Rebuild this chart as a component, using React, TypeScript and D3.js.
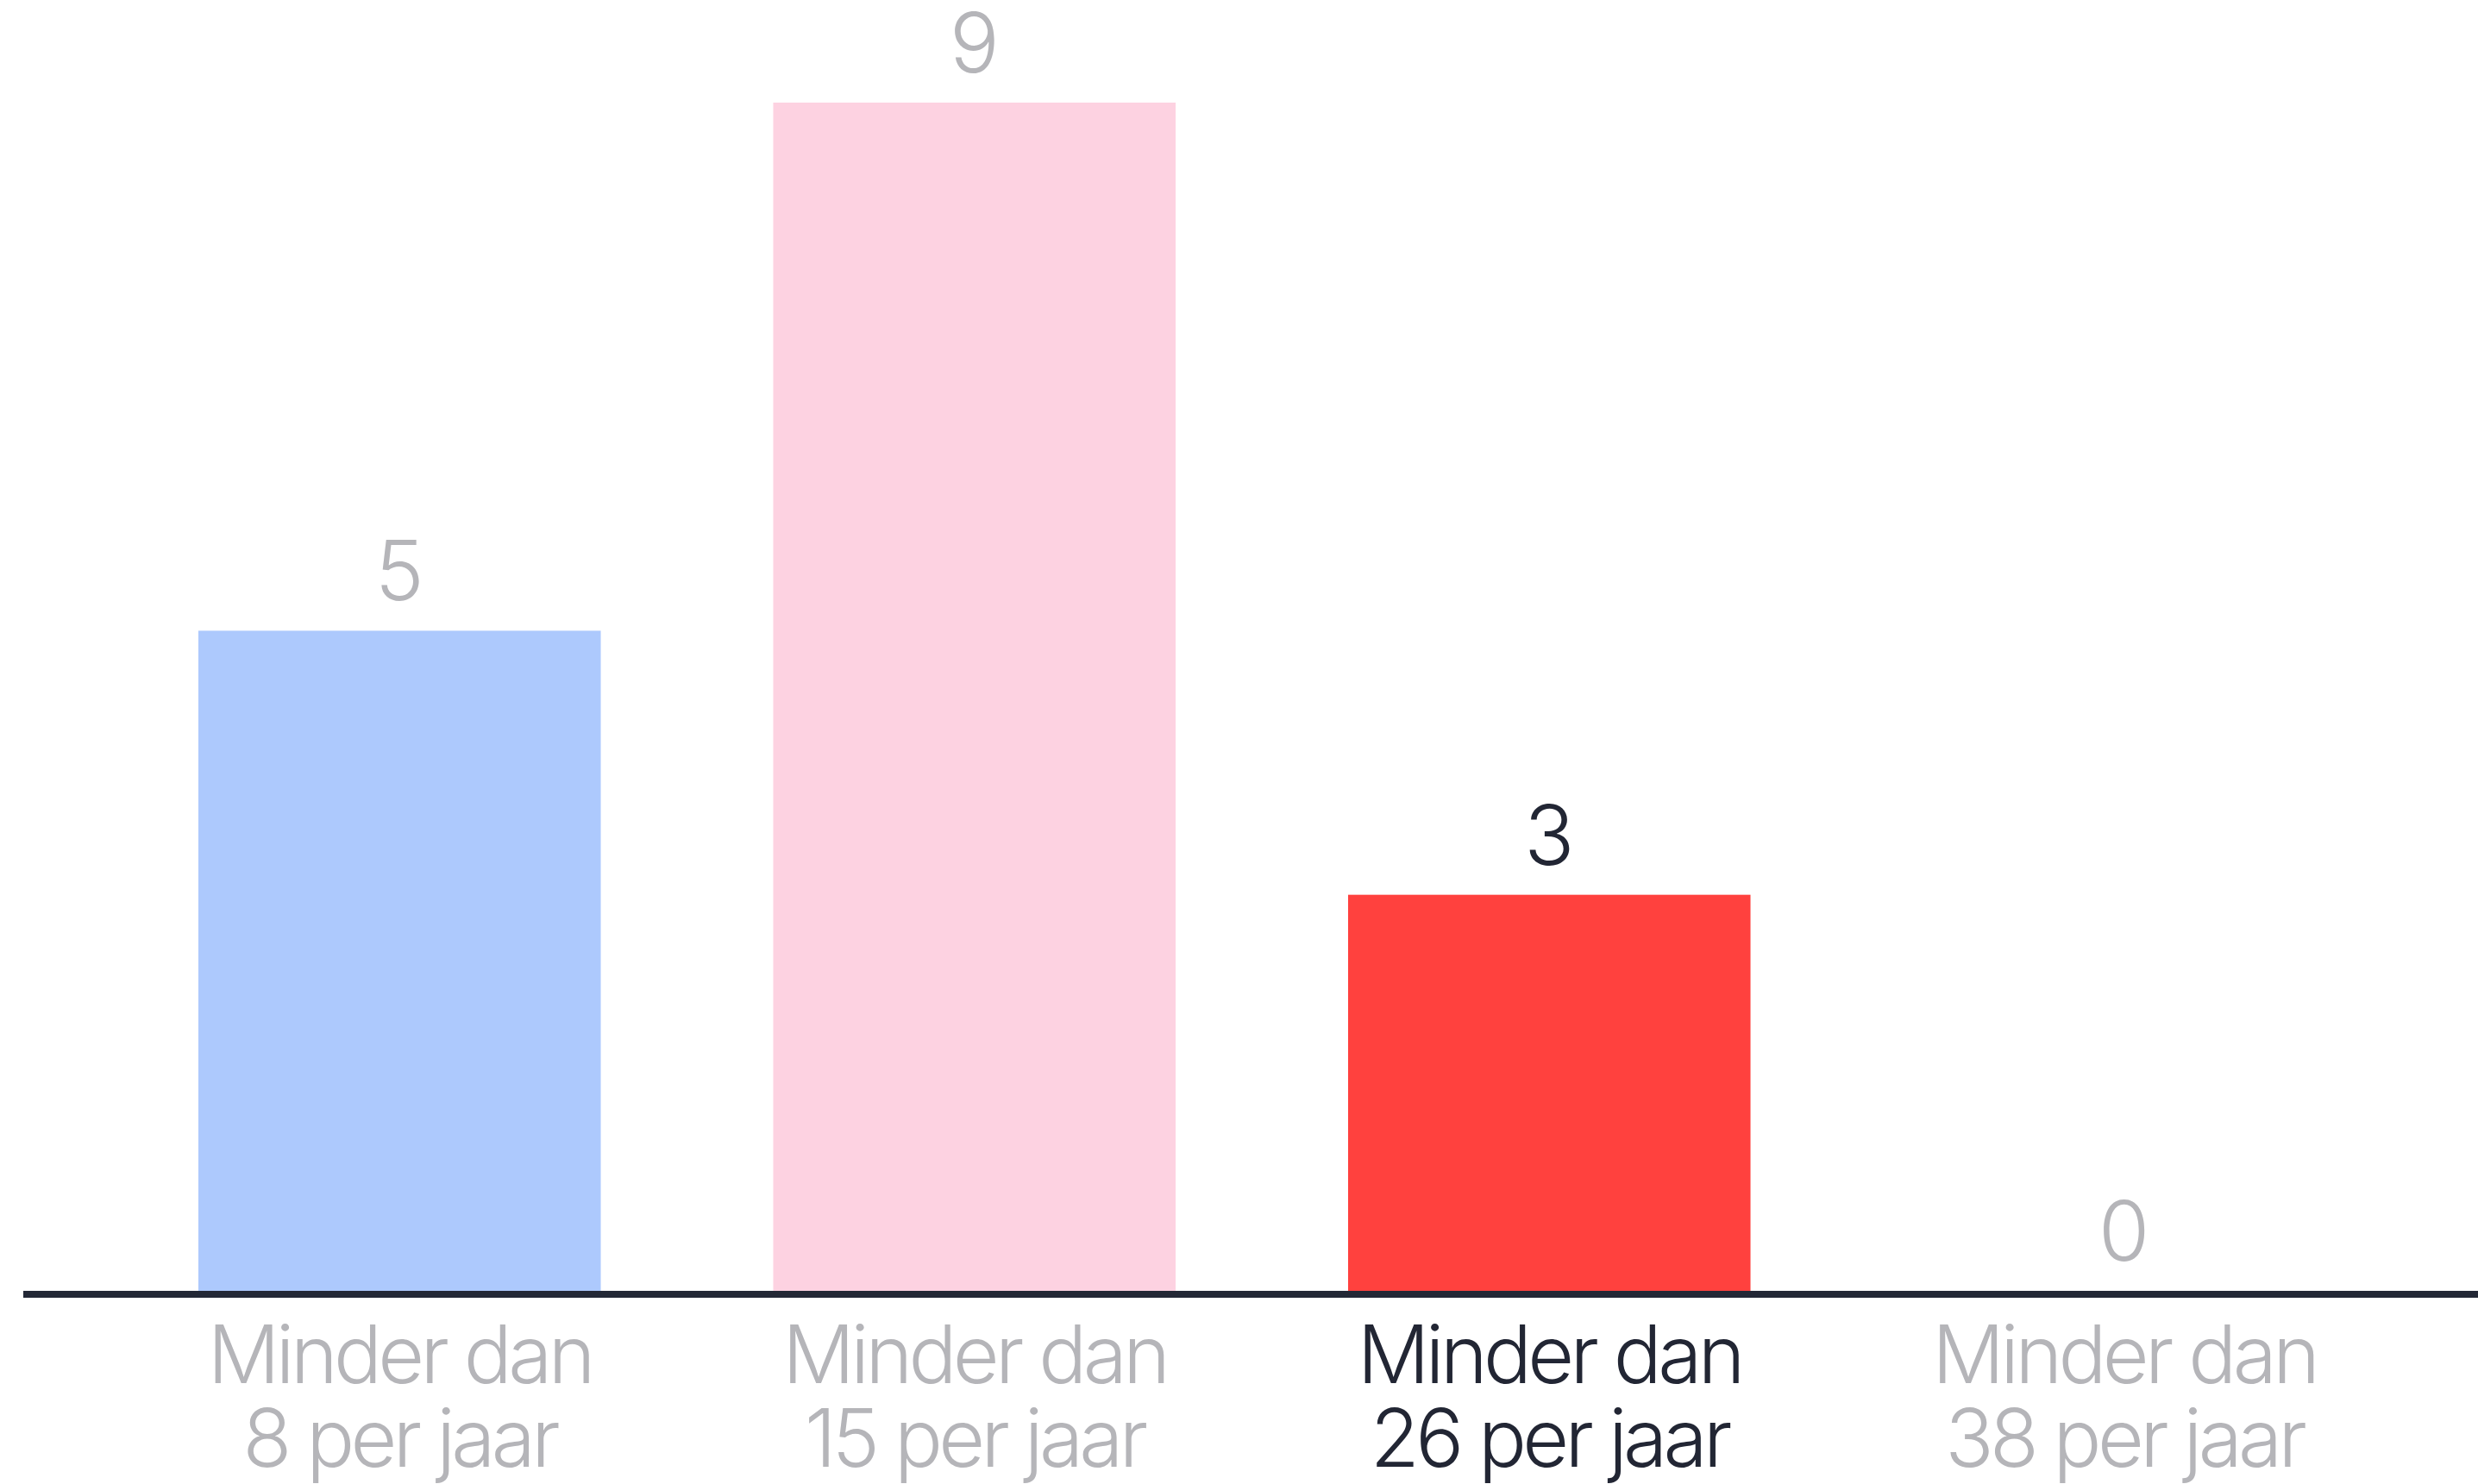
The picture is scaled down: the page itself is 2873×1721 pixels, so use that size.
import React from "react";
import * as d3 from "d3";

// categories, values and which one is highlighted
const categories = ["8 per jaar", "15 per jaar", "26 per jaar", "38 per jaar"];
const values = [5, 9, 3, 0];
const barColors = ["#adc9fd", "#fdd2e1", "#ff413e", "#e0e0e0"];
const highlight = 2;

const W = 2873;
const H = 1721;
const baseY = 1497;

const grey = "#b5b5b9";
const dark = "#222634";
const font = "Inter, 'Open Sans', sans-serif";

export default function App() {
  const x = d3
    .scaleBand<string>()
    .domain(categories)
    .range([130, 2796])
    .paddingInner(0.3)
    .paddingOuter(0.15);

  const y = d3.scaleLinear().domain([0, 9]).range([baseY, 119]);

  return (
    <svg
      width={W}
      height={H}
      style={{ position: "absolute", left: 0, top: 0, background: "#fff" }}
    >
      {categories.map((c, i) => {
        const cx = (x(c) as number) + x.bandwidth() / 2;
        const col = i === highlight ? dark : grey;
        return (
          <g key={c}>
            {values[i] > 0 && (
              <rect
                x={x(c)}
                y={y(values[i])}
                width={x.bandwidth()}
                height={baseY - y(values[i])}
                fill={barColors[i]}
              />
            )}
            <text
              x={cx}
              y={y(values[i]) - 35}
              textAnchor="middle"
              fontFamily={font}
              fontSize={96}
              fontWeight={350}
              fill={col}
            >
              {values[i]}
            </text>
            <text
              textAnchor="middle"
              fontFamily={font}
              fontSize={93}
              fontWeight={350}
              letterSpacing="-0.05em"
              fill={col}
            >
              <tspan x={cx} y={1604}>Minder dan</tspan>
              <tspan x={cx} y={1701}>{c}</tspan>
            </text>
          </g>
        );
      })}
      {/* baseline */}
      <line x1={27} x2={W} y1={baseY + 4} y2={baseY + 4} stroke="#232836" strokeWidth={8} />
    </svg>
  );
}
